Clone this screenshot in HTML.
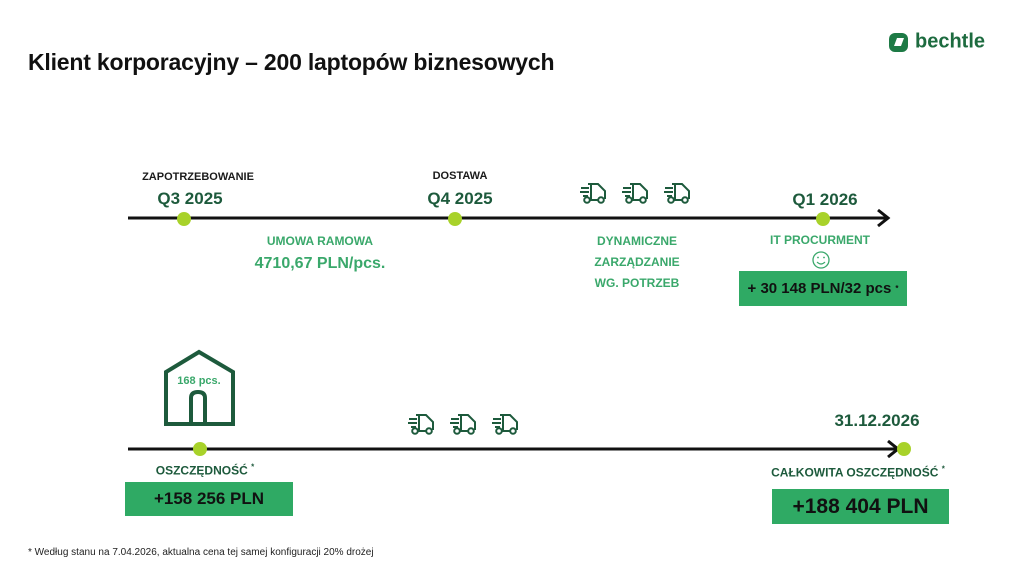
<!DOCTYPE html>
<html><head><meta charset="utf-8"><style>
body{margin:0;width:1024px;height:580px;background:#fff;position:relative;overflow:hidden;font-family:"Liberation Sans",sans-serif}
.t{position:absolute;white-space:nowrap;font-weight:bold;transform:translate(-50%,-50%)}
.dg{color:#1d5a3c}.lg{color:#3aa86b}.k{color:#1a1a1a}
.box{position:absolute;background:#2faa64;display:flex;align-items:center;justify-content:center;font-weight:bold;color:#111}
</style></head><body>
<div style="position:absolute;left:28px;top:49px;font-size:23px;font-weight:bold;color:#111;letter-spacing:-0.2px">Klient korporacyjny – 200 laptopów biznesowych</div>
<svg style="position:absolute;left:0;top:0" width="1024" height="580">
<rect x="889" y="33" width="19" height="19" rx="6" fill="#1d7a45"/>
<path d="M894 46 L897 38 L904 38 L901 46Z" fill="#fff"/>
<line x1="128" y1="218" x2="886" y2="218" stroke="#111" stroke-width="3"/>
<path d="M878 210 L888 218 L878 226" fill="none" stroke="#111" stroke-width="3"/>
<circle cx="184" cy="219" r="7" fill="#a8d22a"/>
<circle cx="455" cy="219" r="7" fill="#a8d22a"/>
<circle cx="823" cy="219" r="7" fill="#a8d22a"/>
<line x1="128" y1="449" x2="896" y2="449" stroke="#111" stroke-width="3"/>
<path d="M888 441 L898 449 L888 457" fill="none" stroke="#111" stroke-width="3"/>
<circle cx="200" cy="449" r="7" fill="#a8d22a"/>
<circle cx="904" cy="449" r="7" fill="#a8d22a"/>
<circle cx="821" cy="260" r="8" fill="none" stroke="#3aa86b" stroke-width="1.3"/>
<path d="M817 262 Q821 266 825 262" fill="none" stroke="#3aa86b" stroke-width="1.2"/>
<circle cx="818" cy="257.5" r="0.9" fill="#3aa86b"/><circle cx="824" cy="257.5" r="0.9" fill="#3aa86b"/>
<path d="M166 424 L166 372 L199 352 L233 372 L233 424Z" fill="none" stroke="#1d5a3c" stroke-width="4"/>
<path d="M191 424 L191 398 Q191 392 198 392 Q205 392 205 398 L205 424" fill="none" stroke="#1d5a3c" stroke-width="4"/>
<g id="tr" fill="none" stroke="#1d5a3c" stroke-width="2">
<path d="M588 184 L598 184 L605 191 L605 199 M581 188 L589 188 M580 192 L589 192 M583 196 L588 196 M591 184 L591 199"/>
<circle cx="587" cy="200" r="2.8"/><circle cx="601" cy="200" r="2.8"/><line x1="590" y1="200" x2="598" y2="200"/>
</g>
<use href="#tr" x="42"/><use href="#tr" x="84"/>
<use href="#tr" x="-172" y="231"/><use href="#tr" x="-130" y="231"/><use href="#tr" x="-88" y="231"/>
</svg>
<div class="t" style="left:950px;top:42px;font-size:20px;color:#1d6b3f">bechtle</div>
<div class="t k" style="left:198px;top:177px;font-size:11px">ZAPOTRZEBOWANIE</div>
<div class="t dg" style="left:190px;top:199px;font-size:17px">Q3 2025</div>
<div class="t k" style="left:460px;top:176px;font-size:11px">DOSTAWA</div>
<div class="t dg" style="left:460px;top:199px;font-size:17px">Q4 2025</div>
<div class="t dg" style="left:825px;top:200px;font-size:17px">Q1 2026</div>
<div class="t lg" style="left:320px;top:241px;font-size:12px">UMOWA RAMOWA</div>
<div class="t lg" style="left:320px;top:264px;font-size:16px">4710,67 PLN/pcs.</div>
<div class="t lg" style="left:637px;top:241px;font-size:12px">DYNAMICZNE</div>
<div class="t lg" style="left:637px;top:262px;font-size:12px">ZARZĄDZANIE</div>
<div class="t lg" style="left:637px;top:283px;font-size:12px">WG. POTRZEB</div>
<div class="t lg" style="left:820px;top:240px;font-size:12px">IT PROCURMENT</div>
<div class="box" style="left:739px;top:271px;width:168px;height:35px;font-size:15px">+ 30 148 PLN/32 pcs <sup style="font-size:8px;margin-left:4px">*</sup></div>
<div class="t lg" style="left:199px;top:381px;font-size:11px">168 pcs.</div>
<div class="t dg" style="left:205px;top:470px;font-size:12px">OSZCZĘDNOŚĆ <sup style="font-size:8px">*</sup></div>
<div class="box" style="left:125px;top:482px;width:168px;height:34px;font-size:17px">+158 256 PLN</div>
<div class="t dg" style="left:877px;top:421px;font-size:17px">31.12.2026</div>
<div class="t dg" style="left:858px;top:472px;font-size:12px">CAŁKOWITA OSZCZĘDNOŚĆ <sup style="font-size:8px">*</sup></div>
<div class="box" style="left:772px;top:489px;width:177px;height:35px;font-size:21px">+188 404 PLN</div>
<div style="position:absolute;left:28px;top:547px;font-size:10px;color:#222">* Według stanu na 7.04.2026, aktualna cena tej samej konfiguracji 20% drożej</div>
</body></html>
